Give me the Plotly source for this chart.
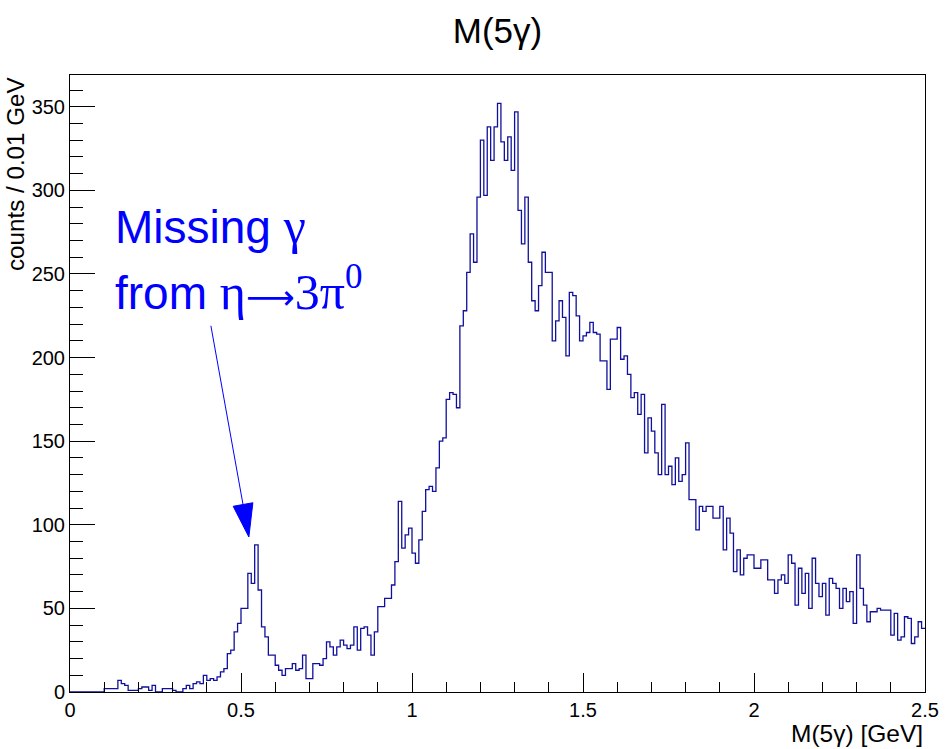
import numpy as np
import plotly.graph_objects as go

# ---------------- data ----------------
BIN_WIDTH = 0.01  # GeV
X_RANGE = [0.0, 2.5]
Y_RANGE = [0.0, 369.0]

counts = [
    0, 0, 0, 0, 0, 0, 0, 0, 0, 0,
    2, 2, 2, 2, 7, 5, 4, 1, 1, 1,
    2, 3, 3, 1, 4, 0, 0, 2, 2, 2,
    1, 0, 0, 2, 4, 2, 5, 6, 5, 10,
    7, 8, 7, 9, 12, 14, 23, 25, 36, 41,
    50, 50, 71, 65, 88, 61, 39, 33, 22, 22,
    16, 13, 10, 14, 14, 17, 13, 14, 22, 8,
    8, 17, 17, 16, 20, 30, 27, 22, 27, 31,
    28, 26, 28, 39, 25, 38, 39, 34, 22, 36,
    51, 51, 56, 56, 64, 78, 114, 86, 94, 98,
    83, 77, 91, 108, 121, 123, 120, 134, 150, 152,
    175, 179, 178, 170, 219, 228, 251, 274, 257, 296,
    330, 297, 338, 318, 338, 352, 329, 318, 332, 312,
    347, 288, 268, 296, 257, 234, 228, 243, 263, 251,
    251, 210, 222, 234, 224, 201, 239, 237, 225, 210,
    213, 215, 221, 215, 214, 198, 198, 181, 211, 211,
    218, 199, 201, 190, 176, 179, 166, 178, 143, 164,
    156, 143, 130, 172, 130, 135, 124, 140, 126, 130,
    149, 115, 115, 97, 111, 108, 111, 111, 104, 104,
    111, 85, 104, 95, 72, 85, 70, 80, 82, 82,
    74, 74, 79, 79, 67, 67, 59, 67, 70, 65,
    82, 77, 52, 74, 59, 71, 50, 80, 65, 57,
    65, 46, 68, 65, 62, 50, 62, 54, 60, 41,
    82, 62, 52, 42, 48, 48, 50, 49, 49, 49,
    34, 47, 31, 33, 45, 44, 29, 33, 42, 38,
]

x_tick_vals = [0, 0.5, 1, 1.5, 2, 2.5]
x_tick_text = ["0", "0.5", "1", "1.5", "2", "2.5"]
y_tick_vals = [0, 50, 100, 150, 200, 250, 300, 350]
y_tick_text = ["0", "50", "100", "150", "200", "250", "300", "350"]

TITLE = "M(5γ)"
X_TITLE = "M(5γ) [GeV]"
Y_TITLE = "counts / 0.01 GeV"

# annotation arrow (data coordinates)
ARROW_TAIL = (0.412, 219.0)
ARROW_TIP = (0.523, 92.7)

# ---------------- layout geometry ----------------
W, H = 945, 749
M_L, M_R, M_T, M_B = 70, 20, 75, 57
PW, PH = W - M_L - M_R, H - M_T - M_B

def to_px(x, y):
    px = M_L + (x - X_RANGE[0]) / (X_RANGE[1] - X_RANGE[0]) * PW
    py = M_T + (Y_RANGE[1] - y) / (Y_RANGE[1] - Y_RANGE[0]) * PH
    return np.array([px, py])

def to_data(p):
    x = X_RANGE[0] + (p[0] - M_L) / PW * (X_RANGE[1] - X_RANGE[0])
    y = Y_RANGE[1] - (p[1] - M_T) / PH * (Y_RANGE[1] - Y_RANGE[0])
    return x, y

# ---------------- histogram outline ----------------
n = len(counts)
edges = np.round(np.arange(n + 1) * BIN_WIDTH, 4)
y_step = list(counts) + [counts[-1]]

HIST_COLOR = "#10109c"
BLUE = "#0000ff"
FONT = "Liberation Sans, Arial, sans-serif"
SERIF = "Liberation Serif"

fig = go.Figure()
fig.add_trace(go.Scatter(
    x=edges, y=y_step, mode="lines",
    line=dict(shape="hv", color=HIST_COLOR, width=1.3),
    hoverinfo="skip", showlegend=False, cliponaxis=True,
))

# arrow: line + filled triangular head
tail_px = to_px(*ARROW_TAIL)
tip_px = to_px(*ARROW_TIP)
d = tip_px - tail_px
u = d / np.linalg.norm(d)
perp = np.array([-u[1], u[0]])
HEAD_LEN, HEAD_HALF = 33.0, 10.0
base_px = tip_px - u * HEAD_LEN
p1 = to_data(base_px + perp * HEAD_HALF)
p2 = to_data(base_px - perp * HEAD_HALF)
pb = to_data(base_px)

fig.add_shape(type="line", xref="x", yref="y",
              x0=ARROW_TAIL[0], y0=ARROW_TAIL[1], x1=pb[0], y1=pb[1],
              line=dict(color=BLUE, width=1))
fig.add_shape(type="path", xref="x", yref="y",
              path=f"M {ARROW_TIP[0]},{ARROW_TIP[1]} L {p1[0]},{p1[1]} L {p2[0]},{p2[1]} Z",
              fillcolor=BLUE, line=dict(color=BLUE, width=1))

annotations = [
    dict(text=(f"Missing <span style='font-family:{SERIF};font-size:50px'>γ</span>"),
         xref="paper", yref="paper", x=(113 - M_L) / PW, y=1 - (226 - M_T) / PH,
         xanchor="left", yanchor="middle", showarrow=False,
         font=dict(family=FONT, size=46, color=BLUE)),
    dict(text=(f"from <span style='font-family:{SERIF};font-size:50px'>η</span>"
               f"<span style='font-family:DejaVu Sans;font-size:34px'>⟶</span>"
               f"<span style='font-family:{SERIF};font-size:50px'>3π<sup>0</sup></span>"),
         xref="paper", yref="paper", x=(113 - M_L) / PW, y=1 - (288 - M_T) / PH,
         xanchor="left", yanchor="middle", showarrow=False,
         font=dict(family=FONT, size=46, color=BLUE)),
    dict(text=X_TITLE, xref="paper", yref="paper", x=1, y=-(733 - (M_T + PH)) / PH,
         xanchor="right", yanchor="middle", showarrow=False,
         font=dict(family=FONT, size=24.5, color="black")),
    dict(text=Y_TITLE, xref="paper", yref="paper", x=(15 - M_L) / PW, y=1,
         xanchor="center", yanchor="top", textangle=-90, showarrow=False,
         font=dict(family=FONT, size=24.2, color="black")),
]

axis_common = dict(
    showgrid=False, zeroline=False, showline=True, linecolor="black",
    linewidth=1, mirror=True, ticks="inside", tickcolor="black", tickwidth=1,
    automargin=False,
    tickfont=dict(family=FONT, size=20, color="black"),
)

fig.update_layout(
    width=W, height=H,
    margin=dict(l=M_L, r=M_R, t=M_T, b=M_B, pad=0, autoexpand=False),
    paper_bgcolor="white", plot_bgcolor="white",
    title=dict(text=TITLE, x=0.5, xref="paper", xanchor="center",
               y=1 - 31 / H, yref="container", yanchor="middle",
               font=dict(family=FONT, size=35, color="black")),
    xaxis=dict(range=X_RANGE, tickvals=x_tick_vals, ticktext=x_tick_text,
               ticklen=19, minor=dict(dtick=0.1, ticklen=10, ticks="inside",
                                      tickcolor="black", tickwidth=1),
               **axis_common),
    yaxis=dict(range=Y_RANGE, tickvals=y_tick_vals, ticktext=y_tick_text,
               ticklen=25, minor=dict(dtick=10, ticklen=13, ticks="inside",
                                      tickcolor="black", tickwidth=1),
               **axis_common),
    annotations=annotations,
    showlegend=False,
)

fig.write_html("out.html")
